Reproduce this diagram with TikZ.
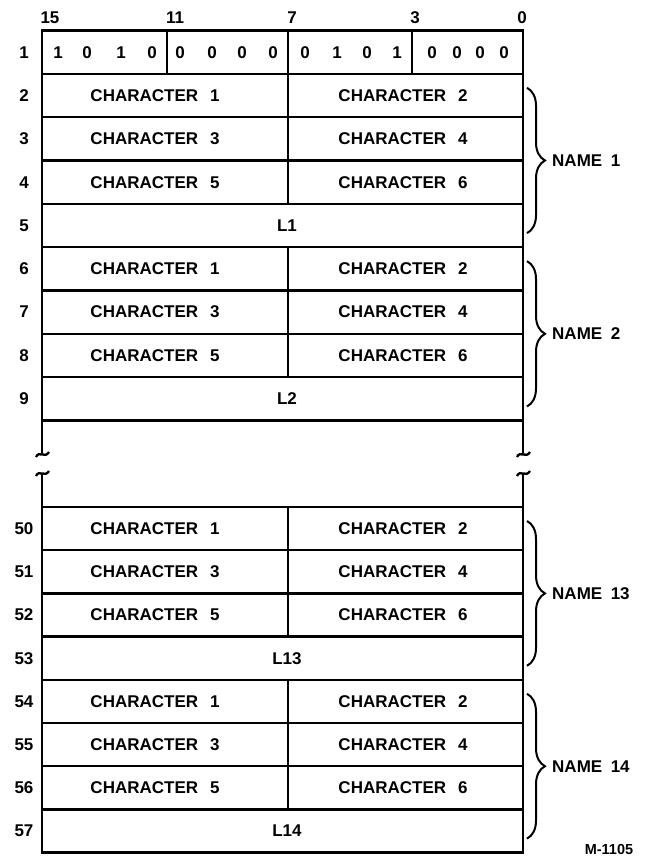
\documentclass[tikz,border=0pt]{standalone}
\usepackage{fontspec}
\setmainfont{Liberation Sans}
\usetikzlibrary{decorations.pathreplacing}
\begin{document}
\begin{tikzpicture}[x=1pt,y=-1pt,
  frame/.style={line width=2.7pt, line join=miter},
  grid/.style={line width=2.3pt},
  lbl/.style={font=\fontsize{17}{20}\selectfont\bfseries, inner sep=0pt},
  smalllbl/.style={font=\fontsize{14.5}{17}\selectfont\bfseries, inner sep=0pt},
  namebrace/.style={decorate, decoration={brace, amplitude=18pt}, line width=2pt}]
\useasboundingbox (0,0) rectangle (645,856);

% bit numbers
\foreach \t/\x in {15/50, 11/175, 7/292, 3/415, 0/522}
  \node[lbl] (bit\t) at (\x,18) {\t};

% row 1
\draw[grid] (167,30.5) -- (167,73.83);
\draw[grid] (288,30.5) -- (288,73.83);
\draw[grid] (412,30.5) -- (412,73.83);
\foreach \v/\x [count=\k] in {1/58,0/87,1/121,0/152, 0/180,0/212,0/242,0/273, 0/305,1/337,0/367,1/397, 0/432,0/457,0/480,0/504}
  \node[lbl] (d\k) at (\x,53) {\v};

% row numbers
\foreach \i in {1,...,9}
  \node[lbl] (r\i) at (24,{30.5+(\i-0.5)*43.33}) {\i};
\foreach \n [count=\j from 0] in {50,...,57}
  \node[lbl] (r\n) at (24,{507+(\j+0.5)*43.2}) {\n};

% outer frame with break marks
\draw[frame] (42,454.5) -- (42,30.5) -- (523,30.5) -- (523,454.5);
\draw[frame] (42,473.5) -- (42,852.6) -- (523,852.6) -- (523,473.5);
\foreach \x in {0,481} {
  \draw[grid] ({36+\x},457) .. controls ({39+\x},450) and ({45+\x},459) .. ({49+\x},452);
  \draw[grid] ({36+\x},476) .. controls ({39+\x},469) and ({45+\x},478) .. ({49+\x},471);
}

% name blocks
\foreach \blk/\top/\hh/\nm in {a/73.83/43.33/1, b/247.15/43.33/2, c/507/43.2/13, d/679.8/43.2/14} {
  \foreach \r in {0,...,4}
    \draw[grid] (42,{\top+\r*\hh}) -- (523,{\top+\r*\hh});
  \draw[grid] (288,\top) -- (288,{\top+3*\hh});
  \foreach \c/\d/\r in {1/2/0, 3/4/1, 5/6/2} {
    \node[lbl] (ch\blk\c) at (155,{\top+(\r+0.5)*\hh}) {CHARACTER\hspace{0.7em}\c};
    \node[lbl] (ch\blk\d) at (403,{\top+(\r+0.5)*\hh}) {CHARACTER\hspace{0.7em}\d};
  }
  \node[lbl] (L\blk) at (287,{\top+3.5*\hh}) {L\nm};
  \coordinate (bt\blk) at (527,{\top+14});
  \coordinate (bb\blk) at (527,{\top+4*\hh-14});
  \draw[namebrace] (bt\blk) -- (bb\blk);
  \node[lbl, anchor=west] (name\blk) at (552,{\top+2*\hh}) {NAME\hspace{0.5em}\nm};
}

\node[smalllbl] (fig) at (609,849) {M-1105};
\end{tikzpicture}
\end{document}
